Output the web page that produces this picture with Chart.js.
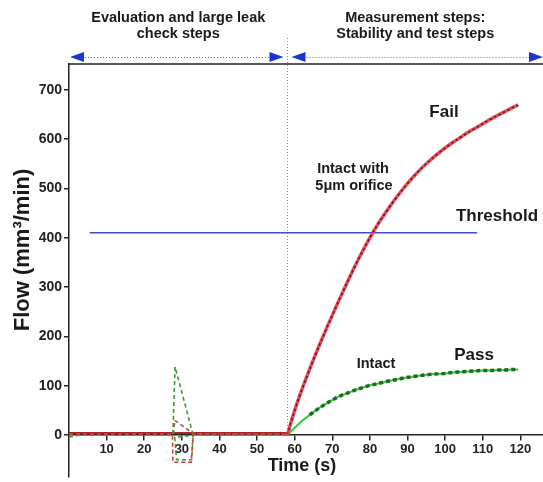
<!DOCTYPE html>
<html><head><meta charset="utf-8">
<script src="https://cdn.jsdelivr.net/npm/chart.js@4"></script>
<style>html,body{margin:0;padding:0;background:#fff}#wrap{width:543px;height:482px}</style>
</head><body><div id="wrap"><canvas id="c" width="543" height="482"></canvas></div>
<script>
// ---- data ----
const curveTime = [58,60,62,64,66,68,70,72,74,76,78,80,82,84,86,88,90,92,94,96,98,100,102,104,106,108,110,112,114,116,118,119.4];
const failFlow  = [0,50,94,134,172,208,243,277,310,342,372,400,426,449,471,491,510,527,543,557,570,582,593,603,613,622,631,640,648,656,664,669];
const passFlow  = [0,15,29,41,52,62,71,79,85,91,96,101,104,108,111,114,117,119,121,123,124,125,127,128,129,130,131,131,132,132,133,133];

const failBaseTime = [0,58];
const failBaseFlow = [4,4];
const failCheckTime = [0,27.5,27.6,32.5,33,58];
const failCheckFlow = [2,2,-55,-55,2,2];
const passCheckTime = [0,3,27.6,28.2,33,32.6,28.6,28.1,33.4,58];
const passCheckFlow = [-4,0,0,138,0,-50,-50,-5,0,0];
const brownCheckTime = [0,27.8,28.1,33,58];
const brownCheckFlow = [1,1,30,3,1];
const thresholdTime = [5.5,108.5];
const thresholdFlow = [410,410];

const xTicks = [10,20,30,40,50,60,70,80,90,100,110,120];
const yTicks = [0,100,200,300,400,500,600,700];
const phaseBoundary = 58;
const passDashFrom = 64;

// ---- build ----
const pts = (t, v) => t.map((x, i) => ({x: x, y: v[i]}));
const FONT = "'Liberation Sans', Arial, sans-serif";

const failCurve = pts(curveTime, failFlow);
const passCurve = pts(curveTime, passFlow);
const passDashCurve = passCurve.filter(p => p.x >= passDashFrom);

const ds = (data, color, width, dash, smooth) => ({
  data: data, borderColor: color, borderWidth: width, borderDash: dash || [],
  pointRadius: 0, fill: false, tension: 0, spanGaps: false,
  cubicInterpolationMode: smooth ? 'monotone' : 'default'
});

const decor = {
  id: 'decor',
  afterDraw(chart) {
    const ctx = chart.ctx, a = chart.chartArea;
    const xs = chart.scales.x, ys = chart.scales.y;
    ctx.save();
    // top frame line
    ctx.strokeStyle = '#222'; ctx.lineWidth = 1.5;
    ctx.beginPath(); ctx.moveTo(a.left, a.top); ctx.lineTo(chart.width, a.top); ctx.stroke();
    // divider
    const dx = Math.round(xs.getPixelForValue(phaseBoundary)) + 0.5;
    ctx.strokeStyle = '#8a8a8a'; ctx.lineWidth = 1; ctx.setLineDash([1, 2]);
    ctx.beginPath(); ctx.moveTo(dx, 38); ctx.lineTo(dx, ys.getPixelForValue(0)); ctx.stroke();
    // arrows
    const ay = 57;
    const arrow = (x1, x2) => {
      ctx.setLineDash([1, 2]); ctx.strokeStyle = '#5a6fd8'; ctx.lineWidth = 1;
      ctx.beginPath(); ctx.moveTo(x1 + 12, ay + 0.5); ctx.lineTo(x2 - 12, ay + 0.5); ctx.stroke();
      ctx.setLineDash([]); ctx.fillStyle = '#1a35d0';
      ctx.beginPath(); ctx.moveTo(x1, ay); ctx.lineTo(x1 + 14, ay - 5); ctx.lineTo(x1 + 14, ay + 5); ctx.closePath(); ctx.fill();
      ctx.beginPath(); ctx.moveTo(x2, ay); ctx.lineTo(x2 - 14, ay - 5); ctx.lineTo(x2 - 14, ay + 5); ctx.closePath(); ctx.fill();
    };
    arrow(a.left + 1, dx - 4);
    arrow(dx + 4, chart.width);
    ctx.setLineDash([]);
    // texts
    ctx.fillStyle = '#1a1a1a'; ctx.textAlign = 'center'; ctx.textBaseline = 'middle';
    const txt = (s, x, y, size) => { ctx.font = 'bold ' + size + 'px ' + FONT; ctx.fillText(s, x, y); };
    const lc = (a.left + dx) / 2, rc = (dx + chart.width) / 2;
    txt('Evaluation and large leak', lc, 18, 14.5);
    txt('check steps', lc, 34, 14.5);
    txt('Measurement steps:', rc, 18, 14.5);
    txt('Stability and test steps', rc, 34, 14.5);
    txt('Fail', 444, 112, 17);
    txt('Intact with', 353, 169, 14.5);
    txt('5\u03bcm orifice', 354, 186, 14.5);
    txt('Threshold', 497, 216, 17);
    txt('Pass', 474, 355, 17);
    txt('Intact', 376, 364, 14.5);
    txt('Time (s)', 302, 466, 18);
    ctx.save(); ctx.translate(23, 250); ctx.rotate(-Math.PI / 2);
    txt('Flow (mm\u00b3/min)', 0, 0, 22);
    ctx.restore();
    ctx.restore();
  }
};

new Chart(document.getElementById('c'), {
  type: 'line',
  data: {
    datasets: [
      ds(failCurve, '#7a1515', 1.6, [2.5, 2.5], true),
      ds(failCurve, '#e2505c', 3.5, null, true),
      ds(passDashCurve, '#1c6b22', 3.5, [4, 3], true),
      ds(passCurve, '#33c83a', 2, null, true),
      ds(pts(thresholdTime, thresholdFlow), '#3b4fc8', 1.5),
      ds(pts(failCheckTime, failCheckFlow), '#d83a3a', 1.6, [4, 3]),
      ds(pts(brownCheckTime, brownCheckFlow), '#a05a4a', 1.6, [4, 3]),
      ds(pts(passCheckTime, passCheckFlow), '#3a9a3a', 1.6, [4, 3]),
      ds(pts(failBaseTime, failBaseFlow), '#b02028', 2)
    ]
  },
  options: {
    responsive: false, animation: false, events: [],
    layout: {padding: {top: 64, bottom: 5, left: 0, right: 0}},
    plugins: {legend: {display: false}, tooltip: {enabled: false}},
    scales: {
      x: {
        type: 'linear', min: 0, max: 126, position: {y: 0},
        afterBuildTicks: s => { s.ticks = xTicks.map(v => ({value: v})); },
        afterFit: s => { s.paddingLeft = 0; s.paddingRight = 0; },
        ticks: {color: '#222', font: {family: FONT, size: 13, weight: 'bold'}, padding: 2, maxRotation: 0},
        grid: {drawOnChartArea: false, drawTicks: true, tickLength: 5, color: '#222', lineWidth: 1.5},
        border: {display: true, color: '#222', width: 1.5}
      },
      y: {
        type: 'linear', min: -85, max: 752, position: 'left',
        afterBuildTicks: s => { s.ticks = yTicks.map(v => ({value: v})); },
        afterFit: s => { s.width = 69; s.paddingTop = 0; s.paddingBottom = 0; },
        ticks: {color: '#222', font: {family: FONT, size: 14, weight: 'bold'}, padding: 2},
        grid: {drawOnChartArea: false, drawTicks: true, tickLength: 5, color: '#222', lineWidth: 1.5},
        border: {display: true, color: '#222', width: 1.5}
      }
    }
  },
  plugins: [decor]
});
</script>
</body></html>
